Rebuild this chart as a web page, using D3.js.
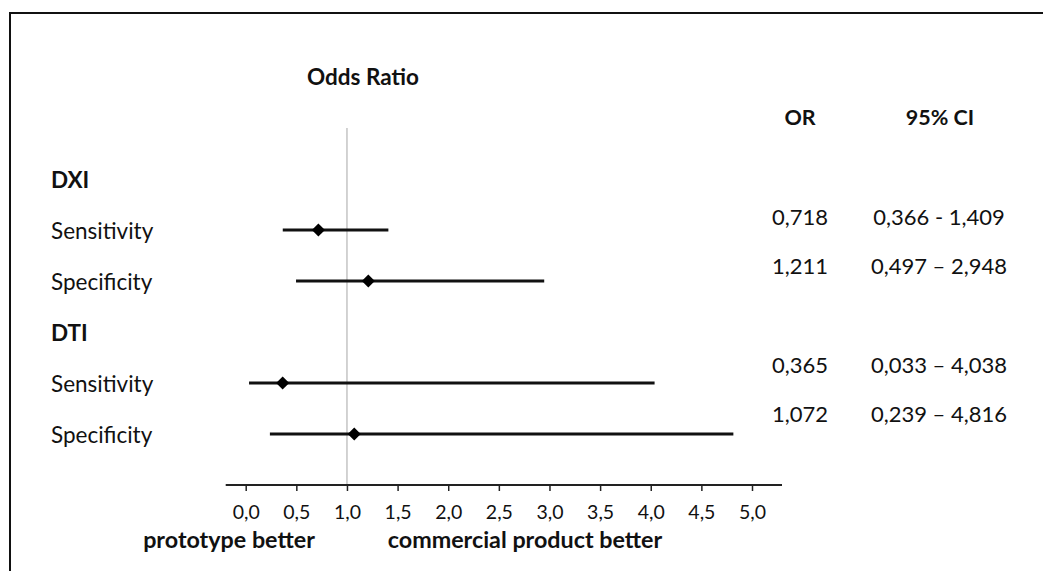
<!DOCTYPE html>
<html>
<head>
<meta charset="utf-8">
<script src="https://d3js.org/d3.v7.min.js"></script>
<style>
  body { margin: 0; background: #fff; }
  text { font-family: Lato, "Open Sans", sans-serif; fill: #111; }
</style>
</head>
<body>
<svg width="1043" height="571"></svg>
<script>

// rows as they appear top to bottom (group headers included)
var rowLabels = ["DXI", "Sensitivity", "Specificity", "DTI", "Sensitivity", "Specificity"];
var rowIsGroup = [true, false, false, true, false, false];

// odds ratio and 95% CI per measurement
var studies = ["DXI Sensitivity", "DXI Specificity", "DTI Sensitivity", "DTI Specificity"];
var studyRow = [1, 2, 4, 5];
var orValues = [0.718, 1.211, 0.365, 1.072];
var ciLow = [0.366, 0.497, 0.033, 0.239];
var ciHigh = [1.409, 2.948, 4.038, 4.816];
var orText = ["0,718", "1,211", "0,365", "1,072"];
var ciText = ["0,366 - 1,409", "0,497 \u2013 2,948", "0,033 \u2013 4,038", "0,239 \u2013 4,816"];

var tickValues = [0, 0.5, 1, 1.5, 2, 2.5, 3, 3.5, 4, 4.5, 5];

var svg = d3.select("svg");

// frame (only top and left edges are in view)
svg.append("path")
    .attr("d", "M10,1000V13H1100")
    .attr("fill", "none")
    .attr("stroke", "#111")
    .attr("stroke-width", 2);

var x = d3.scaleLinear()
    .domain([0, 5])
    .range([245.7, 752]);

var y = d3.scaleLinear()
    .domain([0, 6])
    .range([179, 485]);

// table rows are a little tighter than the plot rows
var yTable = d3.scaleLinear()
    .domain([0, 3])
    .range([225, 373]);
var tableRow = [0, 1, 3, 4];

var fmt = function(d) { return d3.format(".1f")(d).replace(".", ","); };

// reference line at OR = 1
svg.append("line")
    .attr("x1", x(1)).attr("x2", x(1))
    .attr("y1", 128).attr("y2", y(6))
    .attr("stroke", "#c4c4c4")
    .attr("stroke-width", 1.5);

// axis
var axis = svg.append("g")
    .attr("transform", "translate(0," + y(6) + ")")
    .call(d3.axisBottom(x)
        .tickValues(tickValues)
        .tickFormat(fmt)
        .tickSize(6)
        .tickPadding(14));

axis.select(".domain")
    .attr("d", "M" + (x(0) - 20) + ",0H" + (x(5) + 30))
    .attr("stroke", "#222")
    .attr("stroke-width", 2);
axis.selectAll(".tick line").attr("stroke", "#222").attr("stroke-width", 1.5);
axis.selectAll(".tick text")
    .attr("font-size", 19.5)
    .attr("fill", "#111")
    .style("font-family", "Lato, 'Open Sans', sans-serif");

// row labels
svg.selectAll(".rowlabel")
    .data(rowLabels)
    .enter().append("text")
    .attr("class", "rowlabel")
    .attr("x", 51)
    .attr("y", function(d, i) { return y(i) + 8.5; })
    .attr("font-size", 22.5)
    .attr("font-weight", function(d, i) { return rowIsGroup[i] ? "bold" : "normal"; })
    .text(function(d) { return d; });

// CI whiskers
svg.selectAll(".ci")
    .data(studies)
    .enter().append("line")
    .attr("class", "ci")
    .attr("x1", function(d, i) { return x(ciLow[i]); })
    .attr("x2", function(d, i) { return x(ciHigh[i]); })
    .attr("y1", function(d, i) { return y(studyRow[i]); })
    .attr("y2", function(d, i) { return y(studyRow[i]); })
    .attr("stroke", "#111")
    .attr("stroke-width", 2.8);

// diamonds
svg.selectAll(".pt")
    .data(studies)
    .enter().append("path")
    .attr("class", "pt")
    .attr("d", d3.symbol(d3.symbolSquare, 85))
    .attr("transform", function(d, i) {
        return "translate(" + x(orValues[i]) + "," + y(studyRow[i]) + ") rotate(45)";
    })
    .attr("fill", "#000");

// headers
svg.append("text")
    .attr("x", 363).attr("y", 85)
    .attr("text-anchor", "middle")
    .attr("font-size", 22.5).attr("font-weight", "bold")
    .text("Odds Ratio");

svg.append("text")
    .attr("x", 800).attr("y", 125)
    .attr("text-anchor", "middle")
    .attr("font-size", 21.5).attr("font-weight", "bold")
    .text("OR");

svg.append("text")
    .attr("x", 940).attr("y", 125)
    .attr("text-anchor", "middle")
    .attr("font-size", 21.5).attr("font-weight", "bold")
    .text("95% CI");

// table values
svg.selectAll(".ortxt")
    .data(orText)
    .enter().append("text")
    .attr("class", "ortxt")
    .attr("x", 800)
    .attr("y", function(d, i) { return yTable(tableRow[i]); })
    .attr("text-anchor", "middle")
    .attr("font-size", 22)
    .text(function(d) { return d; });

svg.selectAll(".citxt")
    .data(ciText)
    .enter().append("text")
    .attr("class", "citxt")
    .attr("x", 939)
    .attr("y", function(d, i) { return yTable(tableRow[i]); })
    .attr("text-anchor", "middle")
    .attr("font-size", 22)
    .text(function(d) { return d; });

// direction labels under the axis
svg.append("text")
    .attr("x", 229).attr("y", 548)
    .attr("text-anchor", "middle")
    .attr("font-size", 23.3).attr("font-weight", "bold")
    .text("prototype better");

svg.append("text")
    .attr("x", 525).attr("y", 548)
    .attr("text-anchor", "middle")
    .attr("font-size", 23.3).attr("font-weight", "bold")
    .text("commercial product better");

</script>
</body>
</html>
